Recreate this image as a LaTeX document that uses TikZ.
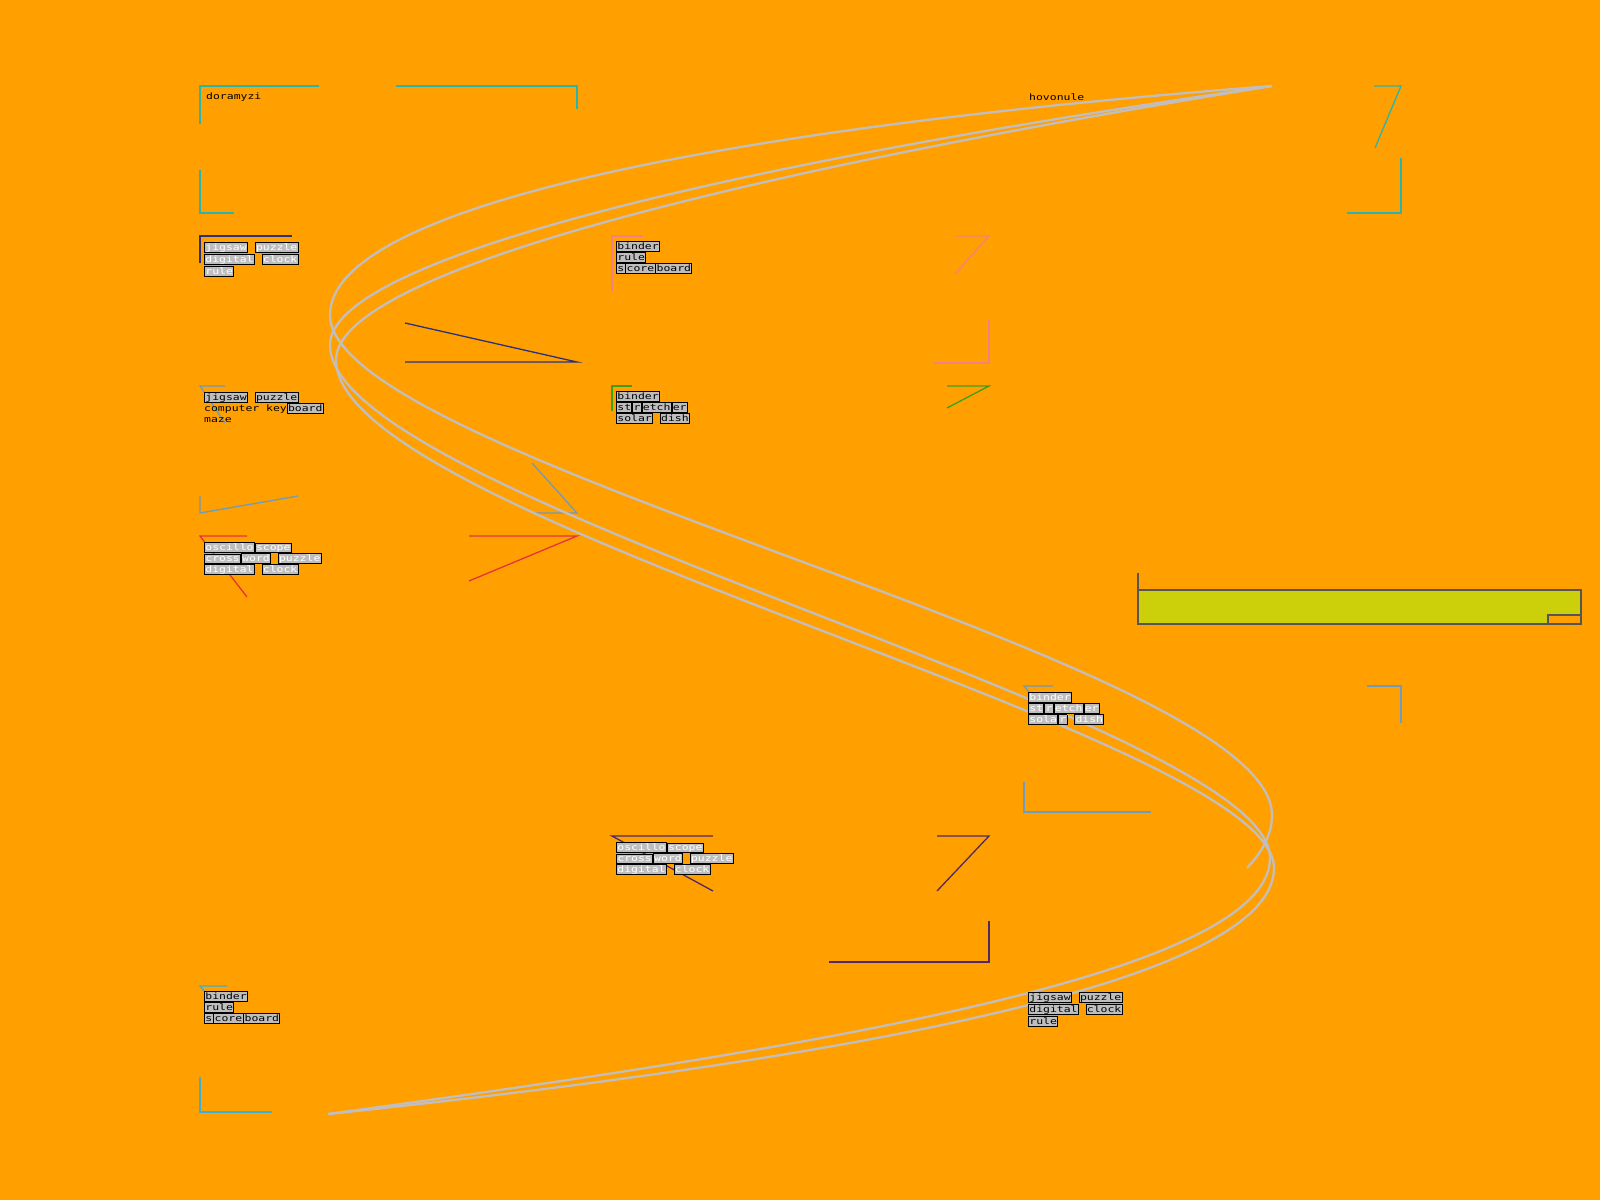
\documentclass[tikz,border=0pt]{standalone}
\usepackage{fontspec}
\newfontfamily\pixfont[FakeStretch=1.3]{DejaVu Sans Mono}
\definecolor{bgorange}{RGB}{255,160,0}
\definecolor{frmteal}{RGB}{40,180,175}
\definecolor{frmnavy}{RGB}{40,50,120}
\definecolor{frmsteel}{RGB}{110,155,190}
\definecolor{frmred}{RGB}{230,50,60}
\definecolor{frmpink}{RGB}{240,130,130}
\definecolor{frmgreen}{RGB}{60,160,20}
\definecolor{frmplum}{RGB}{80,40,100}
\definecolor{frmsky}{RGB}{60,175,210}
\definecolor{strandgrey}{RGB}{195,190,190}
\definecolor{boxgrey}{RGB}{190,190,190}
\definecolor{panelfill}{RGB}{204,208,10}
\definecolor{panelline}{RGB}{85,85,85}
\newcommand{\lword}[1]{{\setlength{\fboxsep}{0.3pt}\setlength{\fboxrule}{0.9pt}\fcolorbox{black}{boxgrey}{\vphantom{Ay}#1}}}
\tikzset{
  brk/.style={line width=1.3pt},
  strand/.style={draw=strandgrey, line width=2.3pt},
  lbl/.style={
    anchor=north west,
    inner sep=0pt,
    align=left,
    font=\pixfont\fontsize{8.8}{11}\selectfont,
    text=black
  },
  lblw/.style={lbl, text=white},
  heading/.style={
    anchor=west,
    inner sep=0pt,
    font=\pixfont\fontsize{8.8}{11}\selectfont,
    text=black
  },
  panel/.style={draw=panelline, fill=panelfill, line width=1.2pt}
}
\begin{document}
\begin{tikzpicture}[x=1pt,y=-1pt]
    \fill[bgorange] (0,0) rectangle (1600,1200);
    \useasboundingbox (0,0) rectangle (1600,1200);
    % frames, left column
    \draw[brk, frmteal] (319,86) -- (200,86) -- (200,124);
    \draw[brk, frmteal] (396,86) -- (577,86) -- (577,109);
    \draw[brk, frmteal] (200,170) -- (200,213) -- (234,213);
    \draw[brk, frmnavy] (200,263) -- (200,236) -- (292,236);
    \draw[brk, frmnavy] (405,323) -- (577,362) -- (405,362);
    \draw[brk, frmsteel] (225,386) -- (200,386) -- (225,423);
    \draw[brk, frmsteel] (200,496) -- (200,513) -- (298,496);
    \draw[brk, frmsteel] (532,463) -- (577,513) -- (532,513);
    \draw[brk, frmred] (247,536) -- (200,536) -- (247,597);
    \draw[brk, frmred] (469,536) -- (577,536) -- (469,581);
    \draw[brk, frmsky] (227,986) -- (200,986) -- (227,1020);
    \draw[brk, frmsky] (200,1077) -- (200,1112) -- (272,1112);
    % frames, middle column
    \draw[brk, frmpink] (643,236) -- (612,236) -- (612,291);
    \draw[brk, frmpink] (955,236) -- (989,236) -- (955,274);
    \draw[brk, frmpink] (989,320) -- (989,363) -- (934,363);
    \draw[brk, frmgreen] (632,386) -- (612,386) -- (612,411);
    \draw[brk, frmgreen] (947,386) -- (989,386) -- (947,408);
    \draw[brk, frmplum] (713,836) -- (612,836) -- (713,891);
    \draw[brk, frmplum] (937,836) -- (989,836) -- (937,891);
    \draw[brk, frmplum] (989,921) -- (989,962) -- (829,962);
    % frames, right column
    \draw[brk, frmteal] (1374,86) -- (1401,86) -- (1375,148);
    \draw[brk, frmteal] (1347,213) -- (1401,213) -- (1401,158);
    \draw[brk, frmsteel] (1053,686) -- (1024,686) -- (1053,720);
    \draw[brk, frmsteel] (1367,686) -- (1401,686) -- (1401,723);
    \draw[brk, frmsteel] (1024,782) -- (1024,812) -- (1151,812);
    % bar
    \draw[panel] (1138,590) rectangle (1581,624);
    \draw[panel, fill=bgorange] (1548,615) rectangle (1581,624);
    \draw[draw=panelline, line width=1.2pt] (1138,573) -- (1138,590);
    % strands
    \coordinate (apextop) at (1272,86);
    \coordinate (apexbot) at (328,1114);
    \coordinate (tail) at (1247,868);
    \draw[strand] (apextop) .. controls (700,130) and (330,210) .. (330,315)
      .. controls (330,460) and (1272,660) .. (1272,815)
      .. controls (1272,835) and (1262,852) .. (tail);
    \draw[strand] (apextop) .. controls (720,165) and (330,260) .. (330,345)
      .. controls (330,500) and (1270,720) .. (1270,858)
      .. controls (1270,975) and (800,1050) .. (apexbot);
    \draw[strand] (apextop) .. controls (740,172) and (336,272) .. (336,360)
      .. controls (336,520) and (1274,735) .. (1274,868)
      .. controls (1274,985) and (820,1062) .. (apexbot);
    % texts
    \node (t11) [heading] at (206,97) {doramyzi};
    \node (t13) [heading] at (1029,97) {hovonule};
    \node (c21) [lblw] at (204,242) {\lword{jigsaw} \lword{puzzle}\\\lword{digital} \lword{clock}\\\lword{rule}};
    \node (c31) [lbl] at (204,392) {\lword{jigsaw} \lword{puzzle}\\computer key\lword{board}\\maze};
    \node (c41) [lblw] at (204,542) {\lword{oscillo}\lword{scope}\\\lword{cross}\lword{word} \lword{puzzle}\\\lword{digital} \lword{clock}};
    \node (c71) [lbl] at (204,991) {\lword{binder}\\\lword{rule}\\\lword{s}\lword{core}\lword{board}};
    \node (c22) [lbl] at (616,241) {\lword{binder}\\\lword{rule}\\\lword{s}\lword{core}\lword{board}};
    \node (c32) [lbl] at (616,391) {\lword{binder}\\\lword{st}\lword{r}\lword{etch}\lword{er}\\\lword{solar} \lword{dish}};
    \node (c62) [lblw] at (616,842) {\lword{oscillo}\lword{scope}\\\lword{cross}\lword{word} \lword{puzzle}\\\lword{digital} \lword{clock}};
    \node (c53) [lblw] at (1028,692) {\lword{binder}\\\lword{st}\lword{r}\lword{etch}\lword{er}\\\lword{sola}\lword{r} \lword{dish}};
    \node (c73) [lbl] at (1028,992) {\lword{jigsaw} \lword{puzzle}\\\lword{digital} \lword{clock}\\\lword{rule}};
\end{tikzpicture}
\end{document}
